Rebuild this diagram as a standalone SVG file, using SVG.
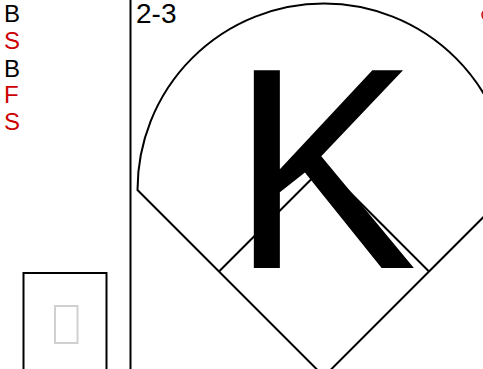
<svg xmlns="http://www.w3.org/2000/svg" width="483" height="369" viewBox="0 0 483 369">
<style>
.ln{fill:none;stroke:#000;stroke-width:2}
.t{font-family:"Liberation Sans",Arial,sans-serif}
.blk{fill:#000}
.red{fill:#cc0000}
</style>
<rect width="483" height="369" fill="#fff"/>
<g id="pitches" class="t" font-size="24">
<text x="4" y="22" class="blk">B</text>
<text x="4" y="49" class="red">S</text>
<text x="4" y="77" class="blk">B</text>
<text x="4" y="103" class="red">F</text>
<text x="4" y="130" class="red">S</text>
</g>
<g id="divider"><line x1="130.5" y1="0" x2="130.5" y2="369" class="ln"/></g>
<g id="batter-box">
<rect x="23.5" y="273" width="83" height="110" class="ln" stroke-width="1.5"/>
<rect x="55" y="306" width="22.5" height="37" fill="none" stroke="#d0d0d0" stroke-width="2"/>
</g>
<g id="count"><text x="136" y="22.5" class="t blk" font-size="28">2-3</text></g>
<g id="field">
<path d="M137.5,190 A186.5,186.5 0 0 1 510.5,190 L324,376.5 Z" class="ln"/>
<path d="M219.5,271 L324,166.5 L428.5,271" class="ln"/>
</g>
<g id="result"><text transform="translate(324,268) scale(1,1.03)" text-anchor="middle" class="t blk" font-size="279">K</text></g>
<g id="marker"><circle cx="488" cy="15" r="6" fill="none" stroke="#cc0000" stroke-width="1.5"/></g>
</svg>
